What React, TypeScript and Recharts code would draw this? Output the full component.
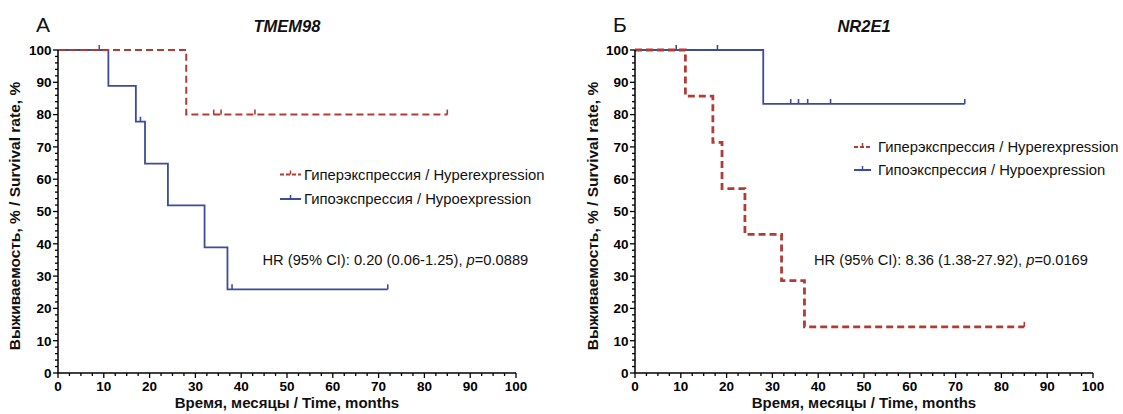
import React from 'react';
import { LineChart, Line, XAxis, YAxis } from 'recharts';

// ---------- axis tick labels ----------
const xMajorTicks = [0, 10, 20, 30, 40, 50, 60, 70, 80, 90, 100];
const yMajorTicks = [0, 10, 20, 30, 40, 50, 60, 70, 80, 90, 100];

// ---------- Panel A: TMEM98 ----------
const hyperA_time = [0, 9, 28, 34, 35.6, 43, 85];
const hyperA_surv = [100, 100, 80, 80, 80, 80, 80];
const hyperA_cens = [0, 1, 0, 1, 1, 1, 1];

const hypoA_time = [0, 11, 17, 18, 19, 24, 32, 37, 38, 72];
const hypoA_surv = [100, 88.9, 77.8, 77.8, 64.8, 51.9, 38.9, 25.9, 25.9, 25.9];
const hypoA_cens = [0, 0, 0, 1, 0, 0, 0, 0, 1, 1];

// ---------- Panel B: NR2E1 ----------
const hyperB_time = [0, 11, 17, 19, 24, 32, 37, 85];
const hyperB_surv = [100, 85.7, 71.4, 57.1, 42.9, 28.6, 14.3, 14.3];
const hyperB_cens = [0, 0, 0, 0, 0, 0, 0, 1];

const hypoB_time = [0, 9, 18, 28, 34, 35.7, 37.7, 42.7, 72];
const hypoB_surv = [100, 100, 100, 83.3, 83.3, 83.3, 83.3, 83.3, 83.3];
const hypoB_cens = [0, 1, 1, 0, 1, 1, 1, 1, 1];

// ---------- texts ----------
const legendHyper = 'Гиперэкспрессия / Hyperexpression';
const legendHypo = 'Гипоэкспрессия / Hypoexpression';
const xTitle = 'Время, месяцы / Time, months';
const yTitle = 'Выживаемость, % / Survival rate, %';

const RED = '#b23b34';
const BLUE = '#3d4b9b';
const FONT = '"Liberation Sans", Arial, Helvetica, sans-serif';

const build = (t: number[], s: number[], c: number[]) =>
  t.map((v, i) => ({ t: v, s: s[i], c: c[i] }));

const hyperA = build(hyperA_time, hyperA_surv, hyperA_cens);
const hypoA = build(hypoA_time, hypoA_surv, hypoA_cens);
const hyperB = build(hyperB_time, hyperB_surv, hyperB_cens);
const hypoB = build(hypoB_time, hypoB_surv, hypoB_cens);

const xAllTicks: number[] = [];
for (let i = 0; i < xMajorTicks.length - 1; i++) {
  const a = xMajorTicks[i];
  const step = (xMajorTicks[i + 1] - a) / 4;
  for (let k = 0; k < 4; k++) xAllTicks.push(a + k * step);
}
xAllTicks.push(xMajorTicks[xMajorTicks.length - 1]);

const yAllTicks: number[] = [];
for (let i = 0; i < yMajorTicks.length - 1; i++) {
  const a = yMajorTicks[i];
  const step = (yMajorTicks[i + 1] - a) / 5;
  for (let k = 0; k < 5; k++) yAllTicks.push(a + k * step);
}
yAllTicks.push(yMajorTicks[yMajorTicks.length - 1]);

const isMajor = (v: number, majors: number[]) => majors.some((m) => Math.abs(m - v) < 1e-6);

const XTick = (props: any) => {
  const { x, y, payload } = props;
  const v = payload.value;
  const major = isMajor(v, xMajorTicks);
  return (
    <g>
      <line x1={x} x2={x} y1={y} y2={y + (major ? 5 : 3)} stroke="#000" strokeWidth={1.3} />
      {major && (
        <text x={x} y={y + 8} dy="0.71em" textAnchor="middle" fontFamily={FONT} fontWeight="bold" fontSize={13.5} fill="#000">
          {v}
        </text>
      )}
    </g>
  );
};

const YTick = (props: any) => {
  const { x, y, payload } = props;
  const v = payload.value;
  const major = isMajor(v, yMajorTicks);
  return (
    <g>
      <line x1={x - (major ? 5 : 3)} x2={x} y1={y} y2={y} stroke="#000" strokeWidth={1.3} />
      {major && (
        <text x={x - 6.5} y={y} dy="0.36em" textAnchor="end" fontFamily={FONT} fontWeight="bold" fontSize={13.5} fill="#000">
          {v}
        </text>
      )}
    </g>
  );
};

const censorDot = (color: string) => (props: any) => {
  const { cx, cy, payload, index } = props;
  if (!payload || !payload.c) return <g key={`d${index}`} />;
  return <line key={`d${index}`} x1={cx} x2={cx} y1={cy} y2={cy - 5} stroke={color} strokeWidth={1.6} />;
};

type PanelProps = {
  left: number;
  width: number;
  yAxisWidth: number;
  rightMargin: number;
  hyper: any[];
  hypo: any[];
  redWidth: number;
};

const Panel = ({ left, width, yAxisWidth, rightMargin, hyper, hypo, redWidth }: PanelProps) => (
  <div style={{ position: 'absolute', left, top: 0 }}>
    <LineChart width={width} height={414} margin={{ top: 50, right: rightMargin, bottom: 0, left: 0 }}>
      <XAxis
        dataKey="t"
        type="number"
        domain={[0, 100]}
        ticks={xAllTicks}
        interval={0}
        tickSize={0}
        tickMargin={0}
        tickLine={false}
        tick={<XTick />}
        height={41}
        axisLine={{ stroke: '#000', strokeWidth: 1.5 }}
        allowDuplicatedCategory={false}
      />
      <YAxis
        type="number"
        domain={[0, 100]}
        ticks={yAllTicks}
        interval={0}
        tickSize={0}
        tickMargin={0}
        tickLine={false}
        tick={<YTick />}
        width={yAxisWidth}
        axisLine={{ stroke: '#000', strokeWidth: 1.5 }}
      />
      <Line
        data={hypo}
        dataKey="s"
        type="stepAfter"
        stroke={BLUE}
        strokeWidth={1.8}
        dot={censorDot(BLUE)}
        activeDot={false}
        isAnimationActive={false}
      />
      <Line
        data={hyper}
        dataKey="s"
        type="stepAfter"
        stroke={RED}
        strokeWidth={redWidth}
        strokeDasharray="7 4"
        dot={censorDot(RED)}
        activeDot={false}
        isAnimationActive={false}
      />
    </LineChart>
  </div>
);

const LegendRow = ({ x1, x2, tx, y, color, dashed, text }: any) => (
  <g>
    <line x1={x1} x2={x2} y1={y} y2={y} stroke={color} strokeWidth={2} strokeDasharray={dashed ? '4 2' : undefined} />
    <line x1={(x1 + x2) / 2} x2={(x1 + x2) / 2} y1={y} y2={y - 4} stroke={color} strokeWidth={1.5} />
    <text x={tx} y={y} dy="0.36em" fontFamily={FONT} fontSize={14.8} fill="#111">
      {text}
    </text>
  </g>
);

const Overlay = () => (
  <svg width={1123} height={414} style={{ position: 'absolute', left: 0, top: 0, pointerEvents: 'none' }}>
    {/* panel letters */}
    <text x={36} y={31.5} fontFamily={FONT} fontSize={21} fill="#111">А</text>
    <text x={613} y={31.5} fontFamily={FONT} fontSize={21} fill="#111">Б</text>
    {/* titles */}
    <text x={287} y={32} textAnchor="middle" fontFamily={FONT} fontSize={16.5} fontWeight="bold" fontStyle="italic" fill="#111">TMEM98</text>
    <text x={864} y={32} textAnchor="middle" fontFamily={FONT} fontSize={16.5} fontWeight="bold" fontStyle="italic" fill="#111">NR2E1</text>
    {/* legends */}
    <LegendRow x1={280} x2={301} tx={304} y={174.5} color={RED} dashed text={legendHyper} />
    <LegendRow x1={280} x2={301} tx={304} y={199} color={BLUE} text={legendHypo} />
    <LegendRow x1={854} x2={871} tx={878} y={147} color={RED} dashed text={legendHyper} />
    <LegendRow x1={854} x2={871} tx={878} y={170} color={BLUE} text={legendHypo} />
    {/* HR */}
    <text x={262.5} y={259.5} dy="0.36em" fontFamily={FONT} fontSize={14.7} fill="#111">
      HR (95% CI): 0.20 (0.06-1.25), <tspan fontStyle="italic">p</tspan>=0.0889
    </text>
    <text x={814} y={259.5} dy="0.36em" fontFamily={FONT} fontSize={14.7} fill="#111">
      HR (95% CI): 8.36 (1.38-27.92), <tspan fontStyle="italic">p</tspan>=0.0169
    </text>
    {/* axis titles */}
    <text x={287} y={408} textAnchor="middle" fontFamily={FONT} fontSize={15} fontWeight="bold" fill="#111">{xTitle}</text>
    <text x={864} y={408} textAnchor="middle" fontFamily={FONT} fontSize={15} fontWeight="bold" fill="#111">{xTitle}</text>
    <text x={0} y={0} transform="translate(20,216) rotate(-90)" textAnchor="middle" fontFamily={FONT} fontSize={15.5} fontWeight="bold" fill="#111">{yTitle}</text>
    <text x={0} y={0} transform="translate(598,216) rotate(-90)" textAnchor="middle" fontFamily={FONT} fontSize={15.5} fontWeight="bold" fill="#111">{yTitle}</text>
  </svg>
);

export default function App() {
  return (
    <div style={{ position: 'absolute', left: 0, top: 0, width: 1123, height: 414, background: '#fff', overflow: 'hidden' }}>
      <Panel left={0} width={560} yAxisWidth={58} rightMargin={44} hyper={hyperA} hypo={hypoA} redWidth={2} />
      <Panel left={560} width={563} yAxisWidth={75} rightMargin={30} hyper={hyperB} hypo={hypoB} redWidth={2.8} />
      <Overlay />
    </div>
  );
}
